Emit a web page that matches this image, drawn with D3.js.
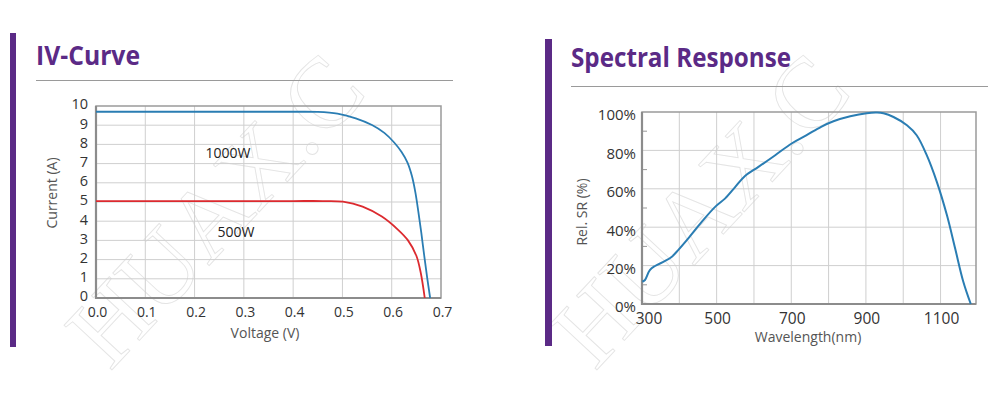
<!DOCTYPE html>
<html>
<head>
<meta charset="utf-8">
<script src="https://cdn.jsdelivr.net/npm/d3@7"></script>
<style>
  body { margin: 0; background: #fff; }
  text { font-family: "Open Sans", sans-serif; }
</style>
</head>
<body>
<script>
// IV curve data (voltage V, current A)
const ivVoltage1000 = [0, 0.1, 0.2, 0.3, 0.4, 0.45, 0.49, 0.527, 0.56, 0.585, 0.605, 0.62, 0.632, 0.641, 0.648, 0.654, 0.66, 0.666, 0.672, 0.678];
const ivCurrent1000 = [9.7, 9.7, 9.7, 9.7, 9.7, 9.69, 9.6, 9.36, 9.01, 8.6, 8.1, 7.6, 7.05, 6.35, 5.5, 4.5, 3.4, 2.2, 1.05, 0];
const ivVoltage500 = [0, 0.1, 0.2, 0.3, 0.4, 0.46, 0.501, 0.541, 0.58, 0.613, 0.633, 0.65, 0.659, 0.667];
const ivCurrent500 = [5.05, 5.05, 5.05, 5.05, 5.05, 5.05, 5.02, 4.76, 4.24, 3.55, 3.0, 2.2, 1.3, 0];
const ivSeriesNames = ["1000W", "500W"];
const ivXTicks = [0, 0.1, 0.2, 0.3, 0.4, 0.5, 0.6, 0.7];
const ivYTicks = [0, 1, 2, 3, 4, 5, 6, 7, 8, 9, 10];

// Spectral response data (wavelength nm, relative SR %)
const srWavelength = [301, 308, 321, 335, 362, 380, 397, 424, 460, 496, 523, 550, 576, 612, 657, 701, 740, 780, 813, 858, 902, 930, 947, 974, 1010, 1036, 1063, 1090, 1117, 1139, 1161, 1181];
const srValue = [11.6, 12.5, 17.7, 19.8, 22.4, 24.6, 28.1, 34.2, 42.8, 50.6, 55.0, 61.0, 66.7, 71.4, 77.5, 83.6, 87.8, 92.3, 95.2, 97.8, 99.4, 99.7, 99.3, 97.4, 93.1, 87.9, 77.5, 63.6, 46.3, 29.0, 11.6, 0];
const srXTicks = [300, 500, 700, 900, 1100];
const srXGrid = [400, 500, 600, 700, 800, 900, 1000, 1100];
const srYTicks = [0, 20, 40, 60, 80, 100];
const srYMinor = [10, 30, 50, 70, 90];

const W = 999, H = 394;
const purple = "#5b2a86";
const gridColor = "#cfcfcf";
const frameColor = "#8c8c8c";
const tickColor = "#333";
const labelColor = "#555";

const svg = d3.select("body").append("svg")
  .attr("width", W)
  .attr("height", H);

// faint watermark (drawn first, under everything)
[0, 485].forEach(dx => {
  svg.append("text")
    .attr("transform", `translate(${110 + dx},372) rotate(-47)`)
    .style("font-family", "'Liberation Serif', serif")
    .attr("font-size", 100)
    .attr("fill", "none")
    .attr("stroke", "#e4e4e4")
    .attr("stroke-width", 0.9)
    .text("HUAX.C");
});

// panel headers
function header(x, barY, barH, barW, title, titleY, titleLen, lineY, lineX2) {
  svg.append("rect")
    .attr("x", x).attr("y", barY)
    .attr("width", barW).attr("height", barH)
    .attr("fill", purple);
  svg.append("text")
    .attr("x", x + 26).attr("y", titleY)
    .attr("fill", purple)
    .attr("font-size", 26)
    .attr("font-weight", "bold")
    .attr("textLength", titleLen)
    .attr("lengthAdjust", "spacingAndGlyphs")
    .text(title);
  svg.append("line")
    .attr("x1", x + 26).attr("x2", lineX2)
    .attr("y1", lineY).attr("y2", lineY)
    .attr("stroke", "#9a9a9a").attr("stroke-width", 1);
}
header(10, 33, 314, 6, "IV-Curve", 65, 104, 80.5, 453);
header(545, 39, 307, 7, "Spectral Response", 67, 220, 86.5, 988);

// ---- IV curve ----
const ivX = d3.scaleLinear().domain([0, 0.7]).range([96, 441]);
const ivY = d3.scaleLinear().domain([0, 10]).range([298, 106]);
const iv = svg.append("g");

iv.selectAll(".vgrid").data(ivXTicks.slice(1, -1)).enter().append("line")
  .attr("x1", d => ivX(d)).attr("x2", d => ivX(d))
  .attr("y1", ivY(0)).attr("y2", ivY(10))
  .attr("stroke", gridColor);
iv.selectAll(".hgrid").data(ivYTicks.slice(1, -1)).enter().append("line")
  .attr("x1", ivX(0)).attr("x2", ivX(0.7))
  .attr("y1", d => ivY(d)).attr("y2", d => ivY(d))
  .attr("stroke", gridColor);

iv.append("rect")
  .attr("x", ivX(0)).attr("y", ivY(10))
  .attr("width", ivX(0.7) - ivX(0)).attr("height", ivY(0) - ivY(10))
  .attr("fill", "none").attr("stroke", "#9a9a9a").attr("stroke-width", 1.5);
iv.append("path")
  .attr("d", `M${ivX(0)},${ivY(10)}V${ivY(0)}H${ivX(0.7)}`)
  .attr("fill", "none").attr("stroke", frameColor).attr("stroke-width", 2.2);

const ivLine = d3.line()
  .x(d => ivX(d[0]))
  .y(d => ivY(d[1]))
  .curve(d3.curveCatmullRom.alpha(0.5));

iv.append("path")
  .datum(ivVoltage1000.map((v, i) => [v, ivCurrent1000[i]]))
  .attr("d", ivLine)
  .attr("fill", "none").attr("stroke", "#2a7db3").attr("stroke-width", 1.8);
iv.append("path")
  .datum(ivVoltage500.map((v, i) => [v, ivCurrent500[i]]))
  .attr("d", ivLine)
  .attr("fill", "none").attr("stroke", "#dc2a2f").attr("stroke-width", 1.8);

iv.selectAll(".ytl").data(ivYTicks).enter().append("text")
  .attr("x", ivX(0) - 8).attr("y", d => ivY(d) - 1.5)
  .attr("dy", "0.34em")
  .attr("text-anchor", "end")
  .attr("font-size", 14.5).attr("fill", tickColor)
  .text(d => d);
iv.selectAll(".xtl").data(ivXTicks).enter().append("text")
  .attr("x", d => ivX(d) + 1.5).attr("y", 317)
  .attr("text-anchor", "middle")
  .attr("font-size", 14).attr("fill", tickColor)
  .text(d => d.toFixed(1));

iv.append("text")
  .attr("transform", "translate(57,193) rotate(-90)")
  .attr("text-anchor", "middle")
  .attr("font-size", 14).attr("fill", labelColor)
  .text("Current (A)");
iv.append("text")
  .attr("x", 265).attr("y", 338)
  .attr("text-anchor", "middle")
  .attr("font-size", 14).attr("fill", labelColor)
  .text("Voltage (V)");

iv.append("text")
  .attr("x", 228).attr("y", 158)
  .attr("text-anchor", "middle")
  .attr("font-size", 14).attr("fill", "#222")
  .text(ivSeriesNames[0]);
iv.append("text")
  .attr("x", 236).attr("y", 237)
  .attr("text-anchor", "middle")
  .attr("font-size", 14).attr("fill", "#222")
  .text(ivSeriesNames[1]);

// ---- Spectral response ----
const srX = d3.scaleLinear().domain([300, 1195]).range([642, 976]);
const srY = d3.scaleLinear().domain([0, 100]).range([304, 112]);
const sr = svg.append("g");

sr.selectAll(".vgrid").data(srXGrid).enter().append("line")
  .attr("x1", d => srX(d)).attr("x2", d => srX(d))
  .attr("y1", srY(0)).attr("y2", srY(100))
  .attr("stroke", gridColor);
sr.selectAll(".hgrid").data(srYTicks.slice(1, -1)).enter().append("line")
  .attr("x1", srX(300)).attr("x2", srX(1195))
  .attr("y1", d => srY(d)).attr("y2", d => srY(d))
  .attr("stroke", gridColor);
sr.selectAll(".minor").data(srYMinor).enter().append("line")
  .attr("x1", srX(300)).attr("x2", srX(300) + 5)
  .attr("y1", d => srY(d)).attr("y2", d => srY(d))
  .attr("stroke", "#999");

sr.append("rect")
  .attr("x", srX(300)).attr("y", srY(100))
  .attr("width", srX(1195) - srX(300)).attr("height", srY(0) - srY(100))
  .attr("fill", "none").attr("stroke", "#9a9a9a").attr("stroke-width", 1.5);
sr.append("path")
  .attr("d", `M${srX(300)},${srY(100)}V${srY(0)}H${srX(1195)}`)
  .attr("fill", "none").attr("stroke", frameColor).attr("stroke-width", 2.2);

const srLine = d3.line()
  .x(d => srX(d[0]))
  .y(d => srY(d[1]))
  .curve(d3.curveCatmullRom);

sr.append("path")
  .datum(srWavelength.map((w, i) => [w, srValue[i]]))
  .attr("d", srLine)
  .attr("fill", "none").attr("stroke", "#2a7db3").attr("stroke-width", 2);

sr.selectAll(".ytl").data(srYTicks).enter().append("text")
  .attr("x", srX(300) - 6).attr("y", d => srY(d) + 3)
  .attr("dy", "0.36em")
  .attr("text-anchor", "end")
  .attr("font-size", 15).attr("fill", tickColor)
  .text(d => d + "%");
sr.selectAll(".xtl").data(srXTicks).enter().append("text")
  .attr("x", d => srX(d) + (d === 300 ? 7 : 1)).attr("y", 324)
  .attr("text-anchor", "middle")
  .attr("font-size", 15.5).attr("fill", tickColor)
  .text(d => d);

sr.append("text")
  .attr("transform", "translate(587,212) rotate(-90)")
  .attr("text-anchor", "middle")
  .attr("font-size", 14).attr("fill", labelColor)
  .text("Rel. SR (%)");
sr.append("text")
  .attr("x", 808).attr("y", 342)
  .attr("text-anchor", "middle")
  .attr("font-size", 14).attr("fill", labelColor)
  .text("Wavelength(nm)");
</script>
</body>
</html>
